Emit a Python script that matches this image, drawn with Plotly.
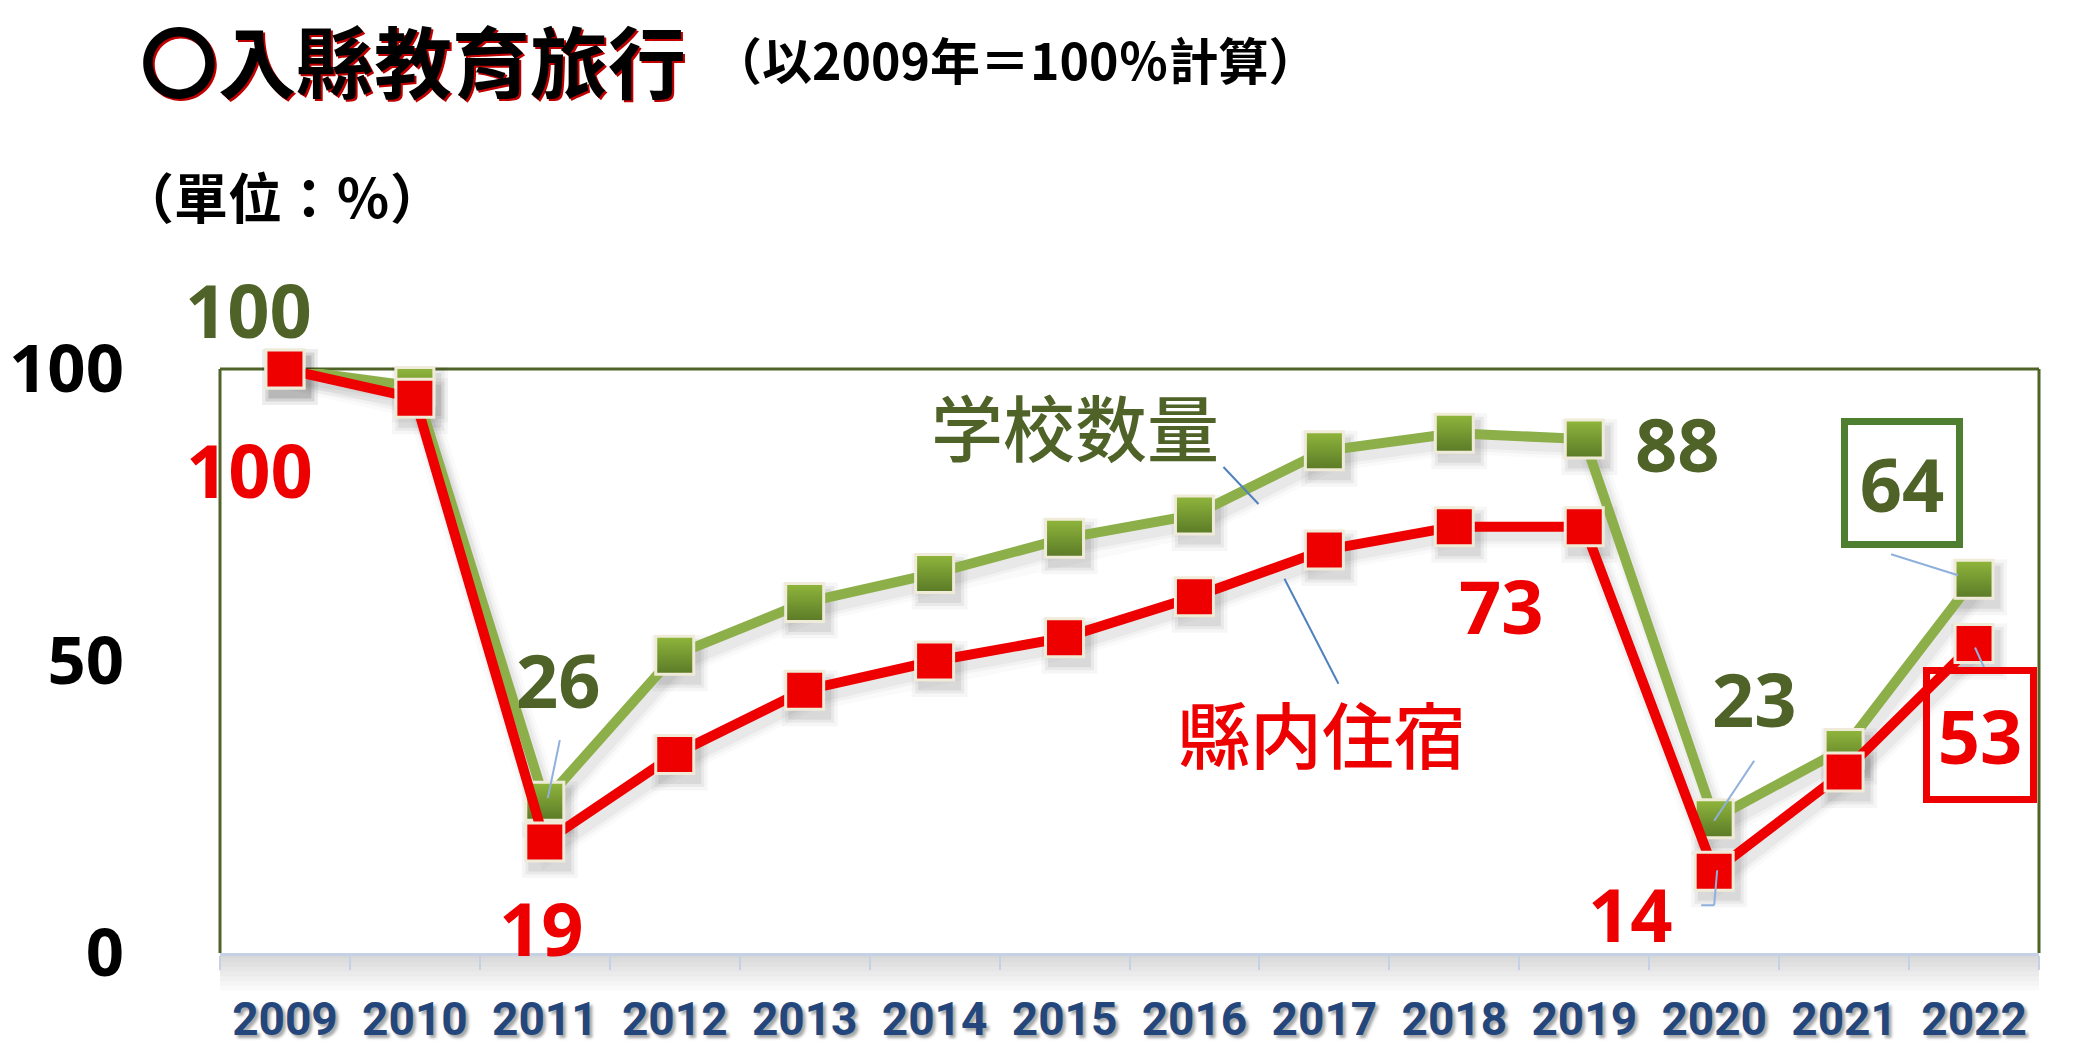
import plotly.graph_objects as go

years = ["2009", "2010", "2011", "2012", "2013", "2014", "2015",
         "2016", "2017", "2018", "2019", "2020", "2021", "2022"]
school_count = [100, 97, 26, 51, 60, 65, 71, 75, 86, 89, 88, 23, 35, 64]
lodging = [100, 95, 19, 34, 45, 50, 54, 61, 69, 73, 73, 14, 31, 53]
y_ticks = [0, 50, 100]

GREEN_LINE = "#8DAF4A"
GREEN_TOP = "#90B63C"
GREEN_BOT = "#5B7A27"
GREEN_TEXT = "#4F6228"
GREEN_BOX = "#4E7F30"
RED = "#EE0000"
CREAM = "#EFEBD8"
XLAB = "#23467C"

NUM_FONT = "Open Sans, Noto Sans, sans-serif"
CJK_FONT = "Noto Sans CJK TC, Noto Sans CJK JP, sans-serif"

fig = go.Figure()

# soft drop shadows: same data on the (hidden) base axes, whose range is
# slightly shifted; the visible chart lives on the overlaying x2/y2 axes
for series in (school_count, lodging):
    for size, lw, alpha in [(56, 26, 0.035), (49, 19, 0.05), (43, 13, 0.065)]:
        fig.add_trace(go.Scatter(
            x=years, y=series, mode="lines+markers", xaxis="x", yaxis="y",
            line=dict(color=f"rgba(0,0,0,{alpha * 0.6})", width=lw),
            marker=dict(symbol="square", size=size,
                        color=f"rgba(0,0,0,{alpha})", line=dict(width=0)),
            cliponaxis=False, hoverinfo="skip"))

fig.add_trace(go.Scatter(
    x=years, y=school_count, mode="lines+markers", name="学校数量",
    xaxis="x2", yaxis="y2",
    line=dict(color=GREEN_LINE, width=10),
    marker=dict(symbol="square", size=38, color=GREEN_TOP,
                gradient=dict(type="vertical", color=GREEN_BOT),
                line=dict(color=CREAM, width=3)),
    cliponaxis=False, hoverinfo="x+y"))

fig.add_trace(go.Scatter(
    x=years, y=lodging, mode="lines+markers", name="縣内住宿",
    xaxis="x2", yaxis="y2",
    line=dict(color=RED, width=10),
    marker=dict(symbol="square", size=38, color=RED,
                line=dict(color=CREAM, width=3)),
    cliponaxis=False, hoverinfo="x+y"))

ann = []


def val_label(i, series, color, dx, dy, **kw):
    d = dict(x=i, y=series[i], xref="x2", yref="y2",
             text=f"<b>{series[i]}</b>", showarrow=False,
             font=dict(family=NUM_FONT, size=74, color=color),
             xshift=dx, yshift=dy)
    d.update(kw)
    ann.append(d)


# green labels
val_label(0, school_count, GREEN_TEXT, -36, 60)
val_label(2, school_count, GREEN_TEXT, 14, 122)
val_label(10, school_count, GREEN_TEXT, 93, -4)
val_label(11, school_count, GREEN_TEXT, 40, 120)
val_label(13, school_count, GREEN_TEXT, -72, 96,
          bordercolor=GREEN_BOX, borderwidth=7, borderpad=0,
          width=108, height=116, bgcolor="white")
# red labels
val_label(0, lodging, RED, -35, -100)
val_label(2, lodging, RED, -3, -85)
val_label(10, lodging, RED, -83, -79)
val_label(11, lodging, RED, -84, -42)
val_label(13, lodging, RED, 6, -92,
          bordercolor=RED, borderwidth=7, borderpad=0,
          width=100, height=122, bgcolor="rgba(255,255,255,0)")

# series labels
ann.append(dict(x=7, y=school_count[7], xref="x2", yref="y2",
                text="学校数量", showarrow=False, xshift=-119, yshift=91,
                font=dict(family="Noto Sans CJK SC, sans-serif", size=72,
                          color=GREEN_TEXT, weight=500)))
ann.append(dict(x=7, y=lodging[7], xref="x2", yref="y2",
                text="縣内住宿", showarrow=False, xshift=128, yshift=-135,
                font=dict(family="Noto Sans CJK JP, sans-serif", size=72,
                          color=RED, weight=500)))

# titles
ann.append(dict(x=(138 - 220) / 1819, y=(953 - 1) / 584, xref="paper",
                yref="paper", xanchor="left", yanchor="top",
                text="<b>〇入縣教育旅行</b>", showarrow=False,
                font=dict(family=CJK_FONT, size=78, color="black",
                          shadow="2px 2px 0px #C00000")))
ann.append(dict(x=(710 - 220) / 1819, y=(953 - 58) / 584, xref="paper",
                yref="paper", xanchor="left", yanchor="middle",
                text="<b>（以2009年＝100％計算）</b>", showarrow=False,
                font=dict(family=CJK_FONT, size=50, color="black")))
ann.append(dict(x=(118 - 220) / 1819, y=(953 - 195) / 584, xref="paper",
                yref="paper", xanchor="left", yanchor="middle",
                text="<b>（單位：％）</b>", showarrow=False,
                font=dict(family=CJK_FONT, size=54, color="black")))

shapes = []


def leader(i, series, pts, color="#8FB0DC", width=2):
    for (a, b) in zip(pts[:-1], pts[1:]):
        shapes.append(dict(type="line", xref="x2", yref="y2",
                           xsizemode="pixel", ysizemode="pixel",
                           xanchor=i, yanchor=series[i],
                           x0=a[0], y0=a[1], x1=b[0], y1=b[1],
                           line=dict(color=color, width=width), layer="above"))


leader(2, school_count, [(15, 61), (3, 3)])
leader(11, school_count, [(40, 58), (0, -2)])
leader(11, lodging, [(3, 1), (0, -34), (-13, -34)])
leader(13, school_count, [(-83, 25), (-16, 4)])
leader(13, lodging, [(1, -4), (10, -24)])
leader(7, school_count, [(29, 48), (64, 11)], color="#4F81BD", width=2)
leader(7, lodging, [(90, 18), (144, -87)], color="#4F81BD", width=2)

# plot-area frame: top, left, right
for x0, y0, x1, y1 in [(0, 1, 1, 1), (0, 0, 0, 1), (1, 0, 1, 1)]:
    shapes.append(dict(type="line", xref="paper", yref="paper",
                       x0=x0, y0=y0, x1=x1, y1=y1,
                       line=dict(color="#4F6228", width=3), layer="below"))
# soft shadow below the category axis
for k in range(8):
    shapes.append(dict(type="rect", xref="paper", yref="paper",
                       x0=0.0, x1=1.0, y0=-(k + 1) * 0.008, y1=0,
                       fillcolor="rgba(0,0,0,0.018)", line=dict(width=0),
                       layer="below"))

x_range = [-0.5, len(years) - 0.5]
px_per_cat = 1819 / len(years)
px_per_unit = 584 / 100
sx, sy = 5 / px_per_cat, 8 / px_per_unit

fig.update_layout(
    width=2087, height=1047, autosize=False,
    margin=dict(l=220, r=48, t=369, b=94, autoexpand=False),
    paper_bgcolor="white", plot_bgcolor="white",
    showlegend=False,
    annotations=ann, shapes=shapes,
    xaxis=dict(type="category", categoryorder="array", categoryarray=years,
               range=[x_range[0] - sx, x_range[1] - sx], autorange=False,
               visible=False, automargin=False),
    yaxis=dict(range=[sy, 100 + sy], autorange=False, visible=False,
               automargin=False),
    xaxis2=dict(type="category", categoryorder="array", categoryarray=years,
                overlaying="x", range=x_range, autorange=False,
                automargin=False,
                showgrid=False, zeroline=False, tickangle=0,
                showline=True, linecolor="#C5D2E6", linewidth=3,
                ticks="outside", tickson="boundaries", ticklen=14,
                tickcolor="#C5D2E6", tickwidth=2,
                ticklabelstandoff=24,
                tickfont=dict(family="Roboto, sans-serif",
                              size=46, color=XLAB, weight="bold",
                              shadow="3px 3px 3px rgba(0,0,0,0.35)")),
    yaxis2=dict(overlaying="y", range=[0, 100], autorange=False,
                automargin=False,
                tickvals=y_ticks, showgrid=False, zeroline=False,
                showline=False, ticks="", ticklabelstandoff=95,
                tickfont=dict(family=NUM_FONT, size=67, color="black",
                              weight="bold")),
)

fig.write_html("out.html")
